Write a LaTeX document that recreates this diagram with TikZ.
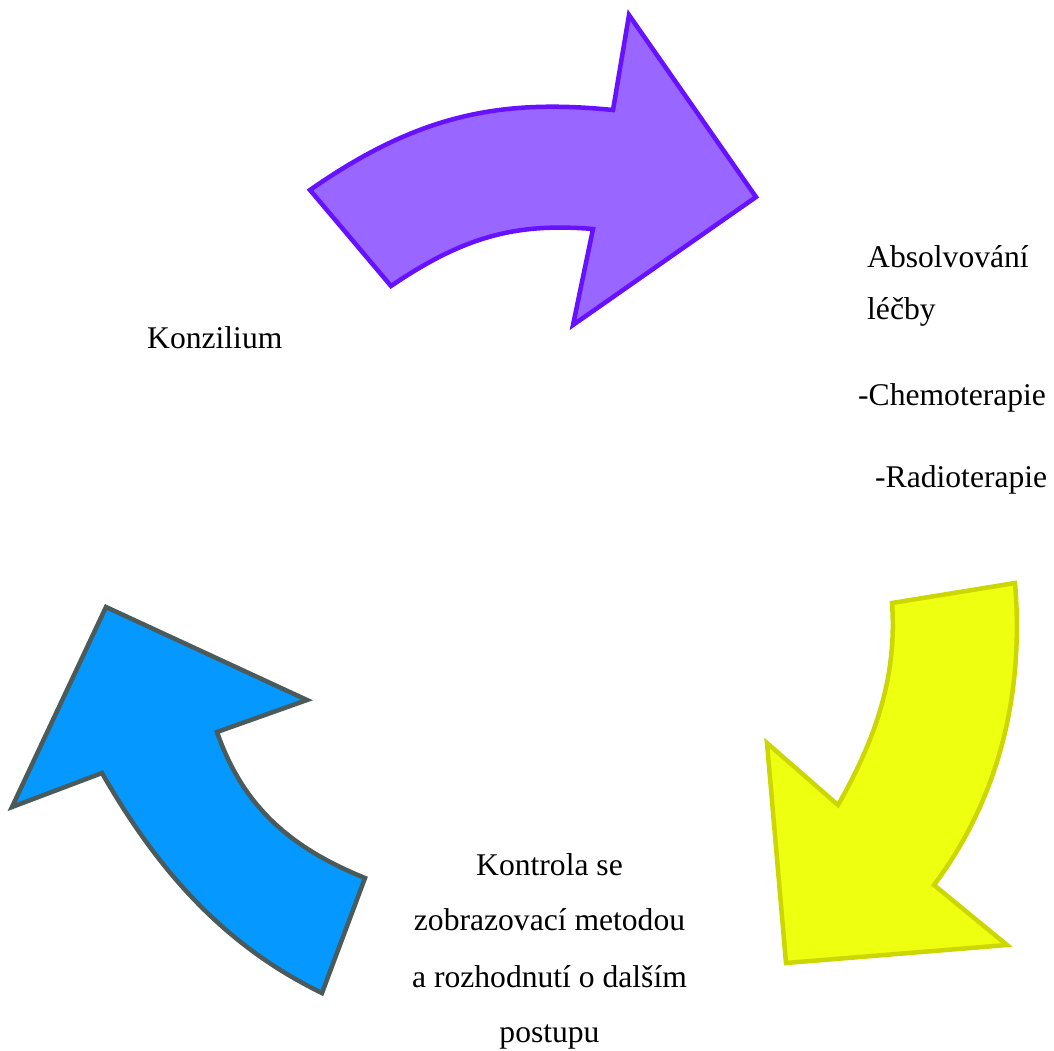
\documentclass[tikz,border=0pt]{standalone}
\usepackage{fontspec}
\setmainfont{Liberation Serif}
\definecolor{pfill}{HTML}{9966FF}
\definecolor{pdraw}{HTML}{6611FF}
\definecolor{yfill}{HTML}{EEFF0F}
\definecolor{ydraw}{HTML}{CCD600}
\definecolor{bfill}{HTML}{0599FF}
\definecolor{bdraw}{HTML}{4B5A5A}
\begin{document}
\begin{tikzpicture}[x=1pt,y=-1pt,
  arrowshape/.style={line width=4.5pt, line join=miter},
  purplearrow/.style={arrowshape, fill=pfill, draw=pdraw},
  yellowarrow/.style={arrowshape, fill=yfill, draw=ydraw},
  bluearrow/.style={arrowshape, fill=bfill, draw=bdraw},
  lbl/.style={inner sep=0pt, font=\fontsize{31.6}{55.7}\selectfont}]
\useasboundingbox (0,0) rectangle (1054,1050);
% purple arrow
\draw[purplearrow] (310,190) -- (391,286) .. controls (466,235) and (518,223) .. (593,229)
  -- (573,325) -- (756,197) -- (629,15) -- (613,110)
  .. controls (503,99) and (420,113) .. (310,190) -- cycle;
% yellow arrow
\draw[yellowarrow] (892,603) -- (1015,583) .. controls (1025,703) and (994,805) .. (934,885)
  -- (1007,945) -- (786,963) -- (767,743) -- (838,805)
  .. controls (878,735) and (897,673) .. (892,603) -- cycle;
% blue arrow
\draw[bluearrow] (106,607) -- (307,700) -- (217,732) .. controls (243,807) and (291,848) .. (365,878)
  -- (322,993) .. controls (223,945) and (157,869) .. (102,773) -- (12,807) -- cycle;
% labels
\node[lbl, anchor=base west] (konz) at (147,348) {Konzilium};
\node[lbl, anchor=base west] (abs1) at (867,267) {Absolvování};
\node[lbl, anchor=base west] (abs2) at (867,319) {léčby};
\node[lbl, anchor=base west] (chemo) at (858,405) {-Chemoterapie};
\node[lbl, anchor=base west] (radio) at (875,487) {-Radioterapie};
\node[lbl, anchor=base] (k1) at (549.5,875) {Kontrola se};
\node[lbl, anchor=base] (k2) at (549.5,930) {zobrazovací metodou};
\node[lbl, anchor=base] (k3) at (549.5,987) {a rozhodnutí o dalším};
\node[lbl, anchor=base] (k4) at (549.5,1042) {postupu};
\end{tikzpicture}
\end{document}
